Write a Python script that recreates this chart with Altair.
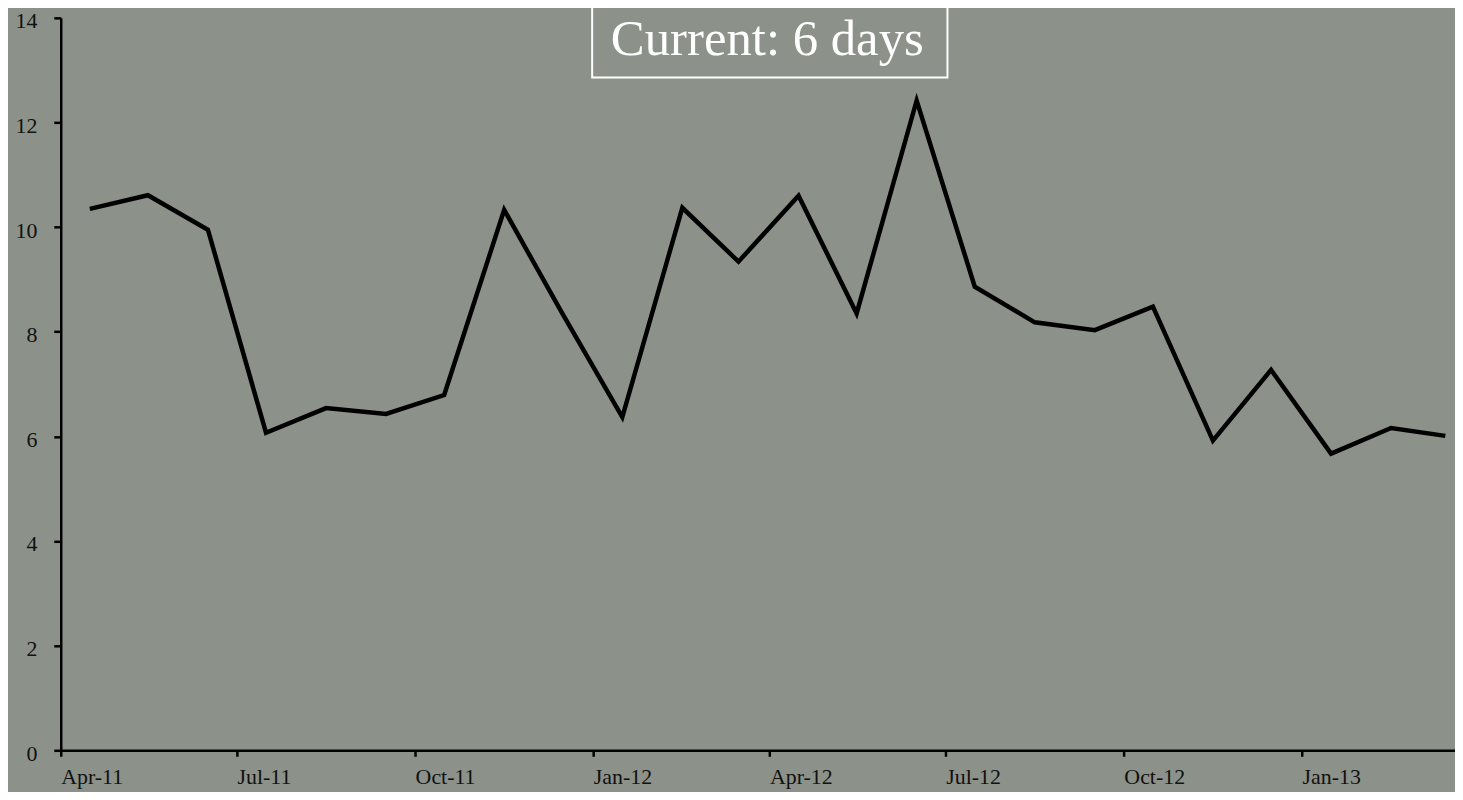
import altair as alt
import pandas as pd

months = ["2011-04", "2011-05", "2011-06", "2011-07", "2011-08", "2011-09",
          "2011-10", "2011-11", "2011-12", "2012-01", "2012-02", "2012-03",
          "2012-04", "2012-05", "2012-06", "2012-07", "2012-08", "2012-09",
          "2012-10", "2012-11", "2012-12", "2013-01", "2013-02", "2013-03"]
values = [10.35, 10.61, 9.95, 6.07, 6.54, 6.43,
          6.79, 10.33, 8.35, 6.37, 10.37, 9.34,
          10.60, 8.35, 12.42, 8.86, 8.18, 8.03,
          8.48, 5.92, 7.27, 5.67, 6.16, 6.01]
title_text = "Current: 6 days"
tick_dates = [(2011, 4), (2011, 7), (2011, 10), (2012, 1), (2012, 4),
              (2012, 7), (2012, 10), (2013, 1)]
y_ticks = [0, 2, 4, 6, 8, 10, 12, 14]

df = pd.DataFrame({"date": [m + "-16T00:00:00" for m in months], "value": values})
tdf = pd.DataFrame({"label": [title_text]})

BG = "#8c9289"
FONT = "Liberation Serif"

x_enc = alt.X(
    "date:T",
    scale=alt.Scale(domain=[alt.DateTime(year=2011, month=4, date=1),
                            alt.DateTime(year=2013, month=3, date=21)]),
    axis=alt.Axis(
        values=[alt.DateTime(year=y, month=m, date=1) for y, m in tick_dates],
        format="%b-%y", title=None, grid=False,
        labelAlign="left", labelOverlap=False, labelFlush=False,
        labelFont=FONT, labelFontSize=22, labelColor="#111111",
        labelPadding=10, tickSize=6, tickWidth=2.5, tickColor="#000000",
        domainColor="#000000", domainWidth=2.5,
    ),
)
y_enc = alt.Y(
    "value:Q",
    scale=alt.Scale(domain=[0, 14], nice=False),
    axis=alt.Axis(
        values=y_ticks, title=None, grid=False,
        labelFont=FONT, labelFontSize=22, labelColor="#111111",
        labelPadding=17, labelOffset=3, tickSize=7, tickWidth=2.5,
        tickColor="#000000", domainColor="#000000", domainWidth=2.5,
    ),
)

line = alt.Chart(df).mark_line(color="#000000", strokeWidth=4.5,
                               strokeJoin="miter").encode(x=x_enc, y=y_enc)

box = alt.Chart(tdf).mark_rect(fill=None, stroke="#ffffff", strokeWidth=2).encode(
    x=alt.value(534), x2=alt.value(891), y=alt.value(-12), y2=alt.value(60)
)
label = alt.Chart(tdf).mark_text(
    font=FONT, fontSize=51, color="#ffffff",
    align="center", baseline="alphabetic"
).encode(text="label:N", x=alt.value(710), y=alt.value(37))

chart = alt.layer(line, box, label).properties(
    width=1401, height=736,
    padding={"left": 53, "top": 8, "right": 0, "bottom": 40},
    autosize="none",
    background=BG,
).configure_view(stroke=None)

chart.save("out.html", embed_options={"renderer": "svg", "actions": False})
